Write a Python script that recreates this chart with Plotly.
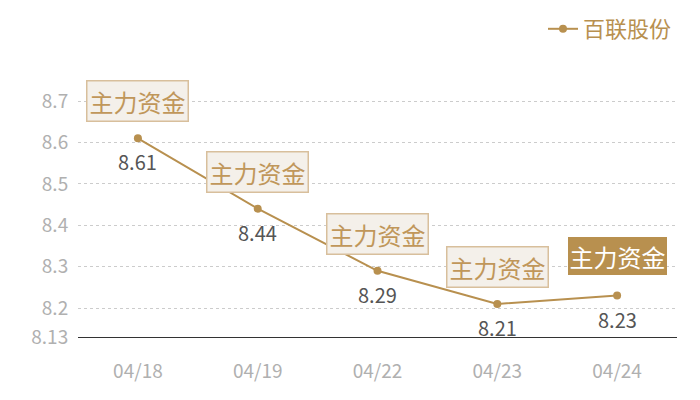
import plotly.graph_objects as go

# data
dates = ["04/18", "04/19", "04/22", "04/23", "04/24"]
prices = [8.61, 8.44, 8.29, 8.21, 8.23]
tag_text = "主力资金"
series_name = "百联股份"
y_ticks = [8.13, 8.2, 8.3, 8.4, 8.5, 8.6, 8.7]

GOLD = "#b8904f"
FONT = "Noto Sans CJK SC"

fig = go.Figure()

fig.add_trace(go.Scatter(
    x=dates,
    y=prices,
    mode="lines+markers",
    line=dict(color=GOLD, width=2),
    marker=dict(size=8, color=GOLD),
    name=series_name,
    showlegend=True
))

# value labels under points, tag boxes above points
for i, (d, p) in enumerate(zip(dates, prices)):
    fig.add_annotation(
        x=d, y=p, text=f"{p:.2f}", showarrow=False,
        yanchor="top", yshift=-7,
        font=dict(family=FONT, size=20, color="#555555")
    )
    last = i == len(dates) - 1
    fig.add_annotation(
        x=d, y=p, text=tag_text, showarrow=False,
        yanchor="bottom", yshift=21 if last else 16,
        font=dict(family=FONT, size=24, color="white" if last else "#c0975a"),
        bgcolor=GOLD if last else "#f4f0ea",
        bordercolor=GOLD if last else "#d8bf9c",
        borderwidth=1.5, borderpad=0 if last else 2
    )

# page body adds an 8px offset; plot area runs to the top so the legend sits inside it
fig.update_layout(
    width=700, height=400,
    paper_bgcolor="white",
    plot_bgcolor="white",
    margin=dict(l=70, r=31, t=0, b=71),
    font=dict(family=FONT),
    showlegend=True,
    legend=dict(
        orientation="h", x=1.0, xanchor="right", y=1.0, yanchor="top",
        font=dict(family=FONT, size=22, color=GOLD),
        bgcolor="rgba(0,0,0,0)",
        itemwidth=30
    ),
    xaxis=dict(
        type="category",
        range=[-0.5, 4.5],
        automargin=False,
        showgrid=False,
        showline=True, linecolor="#333333", linewidth=1,
        ticks="outside", ticklen=17, tickcolor="rgba(0,0,0,0)",
        tickfont=dict(family=FONT, size=19, color="#b0b0b0"),
        fixedrange=True
    ),
    yaxis=dict(
        range=[8.13, 8.925],
        automargin=False,
        tickvals=y_ticks,
        ticktext=[f"{v:g}" for v in y_ticks],
        showgrid=True, gridcolor="#cccccc", griddash="dot", gridwidth=1,
        zeroline=False, showline=False,
        ticks="outside", ticklen=5, tickcolor="rgba(0,0,0,0)",
        tickfont=dict(family=FONT, size=19, color="#b0b0b0")
    )
)

fig.write_html("out.html")
